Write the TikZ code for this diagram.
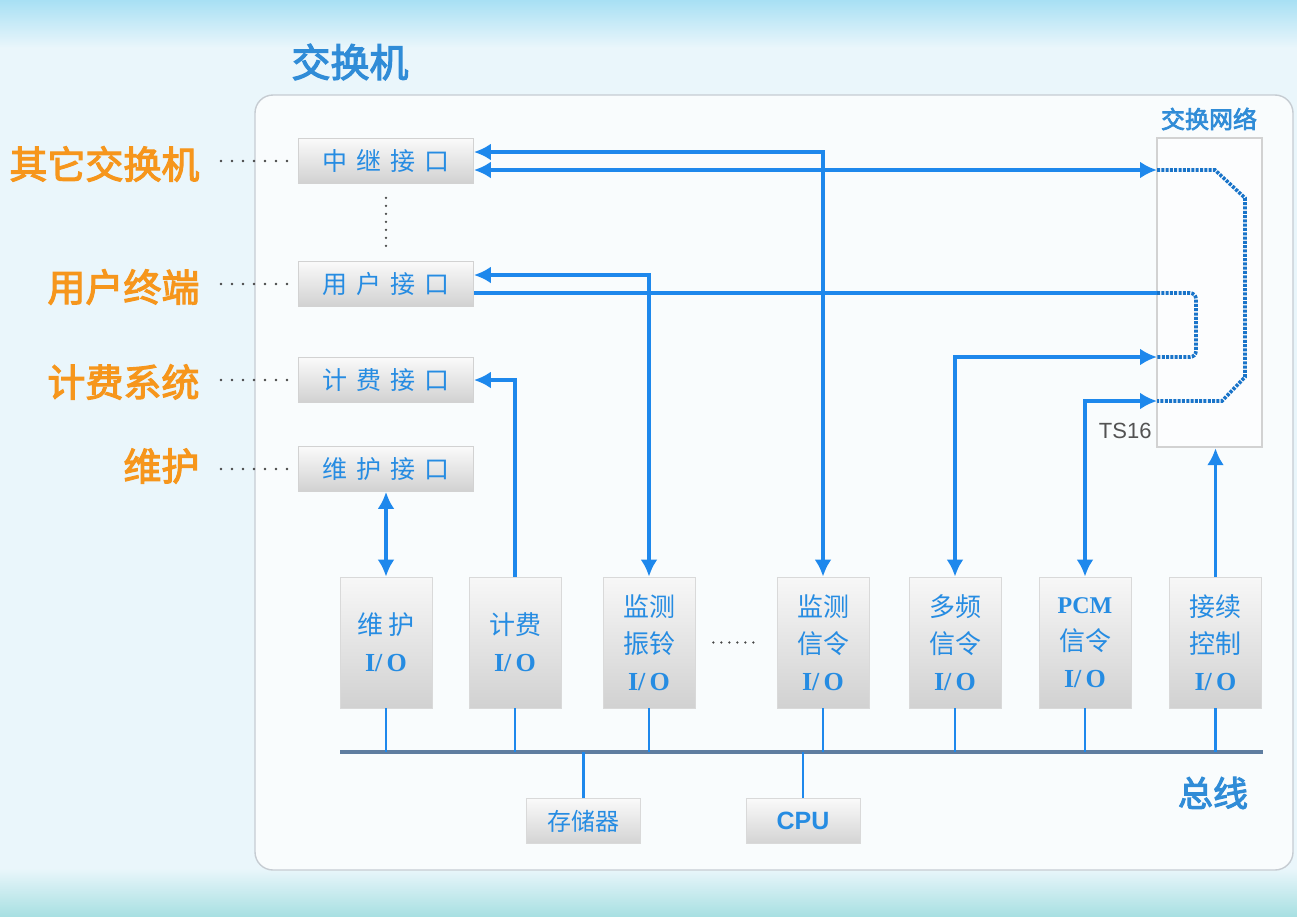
\documentclass[tikz,border=0pt]{standalone}
\usepackage{fontspec}
\newfontfamily\cjk{Noto Sans CJK SC}
\newfontfamily\cjkb{Noto Sans CJK SC}[FakeBold=3]
\newfontfamily\serifb{Liberation Serif}
\newfontfamily\sansf{Liberation Sans}
\usetikzlibrary{arrows.meta,positioning,calc}

\definecolor{lineblue}{RGB}{30,136,236}
\definecolor{textblue}{RGB}{38,140,226}
\definecolor{titleblue}{RGB}{48,140,215}
\definecolor{labelorange}{RGB}{246,150,28}
\definecolor{busgray}{RGB}{95,125,160}
\definecolor{framegray}{RGB}{198,204,210}
\definecolor{bgblue}{RGB}{234,246,251}
\definecolor{topcyan}{RGB}{168,224,244}
\definecolor{bottomteal}{RGB}{168,224,226}

\tikzset{
  ifbox/.style={draw=gray!35,line width=0.8pt,top color=gray!4,bottom color=gray!36,
    minimum width=175pt,minimum height=45pt,inner sep=0pt,text=textblue,
    font=\cjk\fontsize{25}{25}\selectfont},
  iobox/.style={draw=gray!30,line width=0.8pt,top color=gray!6,bottom color=gray!36,
    minimum width=92pt,minimum height=131pt,inner sep=0pt,align=center,text=textblue,
    font=\cjk\fontsize{26}{37}\selectfont},
  devbox/.style={draw=gray!30,line width=0.8pt,top color=gray!4,bottom color=gray!34,
    minimum width=114pt,minimum height=45pt,inner sep=0pt,text=textblue},
  extlabel/.style={anchor=east,text=labelorange,font=\cjkb\fontsize{38}{38}\selectfont},
  dotline/.style={line width=2.6pt,dash pattern=on 0pt off 11pt,line cap=round,gray!55!black},
  link/.style={line width=3.4pt,lineblue},
  arr/.style={link,-{Latex[length=17pt,width=17pt]}},
  darr/.style={link,{Latex[length=17pt,width=17pt]}-{Latex[length=17pt,width=17pt]}},
  netpath/.style={line width=3.6pt,lineblue!85!black,dash pattern=on 3pt off 1.3pt},
  drop/.style={line width=2.6pt,lineblue},
}
\newcommand{\io}{{\serifb\bfseries\fontsize{26}{26}\selectfont I/\,O}}

\begin{document}
\begin{tikzpicture}[x=1pt,y=-1pt]
\useasboundingbox (0,0) rectangle (1297,916);
% background and frame
\fill[bgblue] (0,0) rectangle (1297,916);
\shade[top color=topcyan,bottom color=bgblue] (0,0) rectangle (1297,48);
\shade[top color=bgblue,bottom color=bottomteal] (0,868) rectangle (1297,916);
\fill[white,opacity=0.75,rounded corners=18pt] (255,95) rectangle (1293,870);
\draw[framegray,line width=1.4pt,rounded corners=18pt] (255,95) rectangle (1293,870);

\node[text=titleblue,font=\cjkb\fontsize{39}{39}\selectfont] (title) at (350,62) {交换机};

% interfaces
\node[ifbox] (zj) at (386,161) {中\hskip9pt继\hskip9pt接\hskip9pt口};
\node[ifbox] (yh) at (386,284) {用\hskip9pt户\hskip9pt接\hskip9pt口};
\node[ifbox] (jf) at (386,380) {计\hskip9pt费\hskip9pt接\hskip9pt口};
\node[ifbox] (wh) at (386,469) {维\hskip9pt护\hskip9pt接\hskip9pt口};

\node[extlabel] (ex1) at (203,164) {其它交换机};
\node[extlabel] (ex2) at (203,287) {用户终端};
\node[extlabel] (ex3) at (203,382) {计费系统};
\node[extlabel] (ex4) at (203,466) {维护};

\foreach \e/\b in {ex1/zj,ex2/yh,ex3/jf,ex4/wh}
  \draw[dotline] ($(\b.west -| \e.east)+(18,0)$) -- ([xshift=-8pt]\b.west);
\draw[dotline,dash pattern=on 0pt off 8pt] ([yshift=-14pt]zj.south) -- ([yshift=12pt]yh.north);

% switching network
\node[draw=gray!35,line width=2.4pt,fill=white,fill opacity=0.5,
  minimum width=105pt,minimum height=309pt,inner sep=0pt] (net) at (1209.5,292.5) {};
\node[text=titleblue,font=\cjkb\fontsize{24}{24}\selectfont] (netlbl) at (1209,119) {交换网络};
\node[anchor=east,text=gray!65!black,font=\sansf\fontsize{22}{22}\selectfont] (ts) at (1155,431) {TS16};
\coordinate (netA) at (1157,170);
\coordinate (netB) at (1157,293);
\coordinate (netC) at (1157,357);
\coordinate (netD) at (1157,401);

% I/O units
\node[iobox] (whio) at (386,642.5) {维\hskip6pt护\\\io};
\node[iobox] (jfio) at (515,642.5) {计费\\\io};
\node[iobox] (zl) at (649,642.5) {监测\\振铃\\\io};
\node[iobox] (jsx) at (823,642.5) {监测\\信令\\\io};
\node[iobox] (dp) at (955,642.5) {多频\\信令\\\io};
\node[iobox] (pcm) at (1085,642.5) {{\serifb\bfseries\fontsize{24}{24}\selectfont PCM}\\信令\\\io};
\node[iobox] (jx) at (1215.5,642.5) {接续\\控制\\\io};
\draw[dotline,dash pattern=on 0pt off 8pt,shorten <=18pt,shorten >=18pt] (zl.east) -- (jsx.west);

% bus
\coordinate (busL) at (340,752);
\coordinate (busR) at (1263,752);
\draw[busgray,line width=4.5pt] (busL) -- (busR);
\node[text=titleblue,font=\cjkb\fontsize{35}{35}\selectfont] (buslbl) at (1213,793) {总线};
\node[devbox,font=\cjk\fontsize{24}{24}\selectfont] (mem) at (583.5,821) {存储器};
\node[devbox,font=\sansf\bfseries\fontsize{25}{25}\selectfont] (cpu) at (803,821) {CPU};
\foreach \u in {whio,jfio,zl,jsx,dp,pcm,jx}
  \draw[drop] (\u.south) -- (\u.south |- busL);
\draw[drop] (mem.north) -- (mem.north |- busL);
\draw[drop] (cpu.north) -- (cpu.north |- busL);

% signal paths
\draw[darr] ([yshift=9pt]zj.east) -| (jsx.north);
\draw[darr] ([yshift=-9pt]zj.east) -- (netA);
\draw[darr] ([yshift=9pt]yh.east) -| (zl.north);
\draw[link] ([yshift=-9pt]yh.east) -- (netB);
\draw[arr] (jfio.north) |- (jf.east);
\draw[darr] (wh.south) -- (whio.north);
\draw[darr] (dp.north) |- (netC);
\draw[darr] (pcm.north) |- (netD);
\draw[arr] (jx.north) -- (jx.north |- net.south);

% paths through the network
\draw[netpath] (netA) -- (1215,170) -- (1245,198) -- (1245,377) -- (1222,401) -- (netD);
\draw[netpath,rounded corners=6pt] (netB) -- (1196,293) -- (1196,357) -- (netC);
\end{tikzpicture}
\end{document}
